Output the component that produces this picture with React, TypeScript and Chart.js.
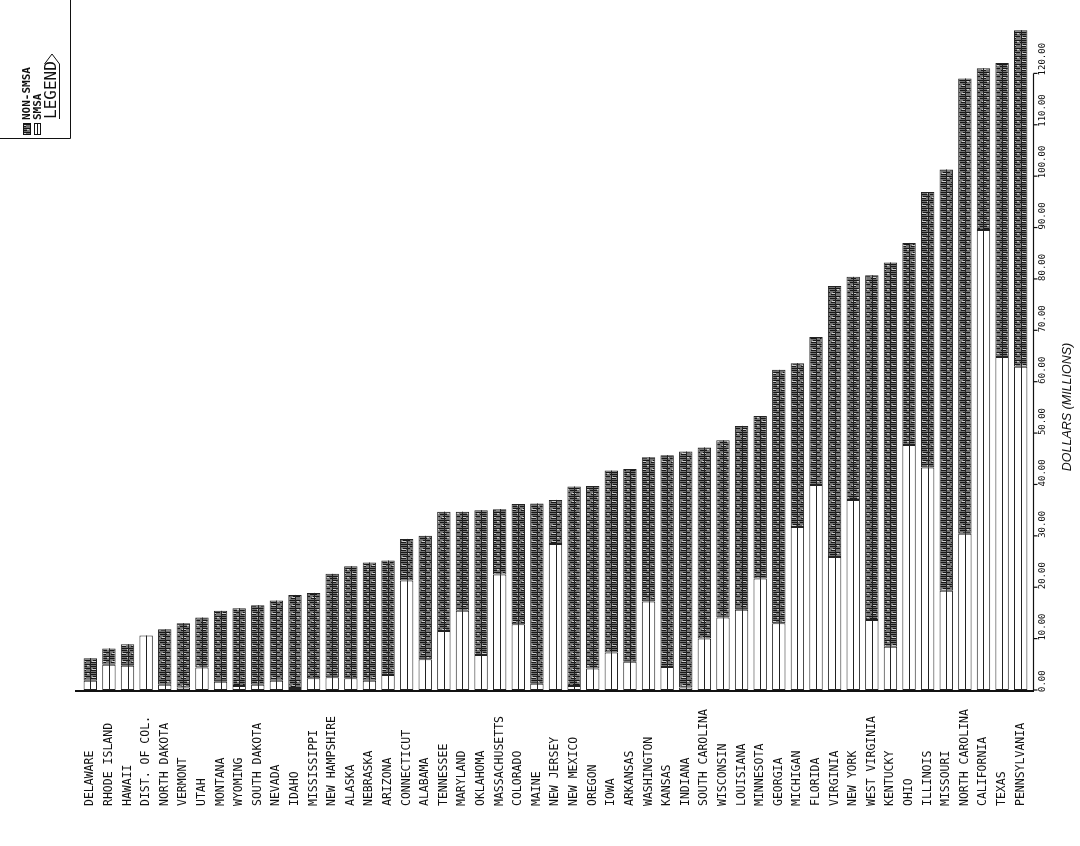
import React, { useEffect, useRef } from "react";
import { Chart, registerables } from "chart.js";

Chart.register(...registerables);

const states = [
  "DELAWARE", "RHODE ISLAND", "HAWAII", "DIST. OF COL.", "NORTH DAKOTA", "VERMONT", "UTAH",
  "MONTANA", "WYOMING", "SOUTH DAKOTA", "NEVADA", "IDAHO", "MISSISSIPPI", "NEW HAMPSHIRE",
  "ALASKA", "NEBRASKA", "ARIZONA", "CONNECTICUT", "ALABAMA", "TENNESSEE", "MARYLAND",
  "OKLAHOMA", "MASSACHUSETTS", "COLORADO", "MAINE", "NEW JERSEY", "NEW MEXICO", "OREGON",
  "IOWA", "ARKANSAS", "WASHINGTON", "KANSAS", "INDIANA", "SOUTH CAROLINA", "WISCONSIN",
  "LOUISIANA", "MINNESOTA", "GEORGIA", "MICHIGAN", "FLORIDA", "VIRGINIA", "NEW YORK",
  "WEST VIRGINIA", "KENTUCKY", "OHIO", "ILLINOIS", "MISSOURI", "NORTH CAROLINA",
  "CALIFORNIA", "TEXAS", "PENNSYLVANIA",
];

const smsa = [
  1.8, 4.9, 4.7, 10.6, 1.0, 0.5, 4.4, 1.6, 0.8, 1.0, 1.8, 0.4, 2.3, 2.5, 2.3, 1.8, 2.9,
  21.3, 6.0, 11.5, 15.4, 6.8, 22.5, 12.8, 1.2, 28.4, 0.8, 4.2, 7.3, 5.5, 17.2, 4.5, 0.5,
  10.0, 14.1, 15.6, 21.7, 13.0, 31.7, 39.9, 25.9, 37.0, 13.6, 8.4, 47.7, 43.3, 19.3, 30.4,
  89.5, 64.8, 62.9,
];

const nonSmsa = [
  4.4, 3.2, 4.2, 0, 10.8, 12.5, 9.7, 13.8, 15.1, 15.5, 15.6, 18.1, 16.6, 20.1, 21.8, 23.0,
  22.3, 8.1, 24.0, 23.2, 19.3, 28.2, 12.7, 23.4, 35.1, 8.6, 38.8, 35.5, 35.4, 37.5, 28.1,
  41.2, 45.9, 37.2, 34.5, 35.8, 31.6, 49.3, 31.9, 28.8, 52.7, 43.4, 67.1, 74.8, 39.3, 53.6,
  82.0, 88.6, 31.5, 57.2, 65.5,
];

const valueTicks = [0, 10, 20, 30, 40, 50, 60, 70, 80, 90, 100, 110, 120];
const tickLabels = ["0.00", "10.00", "20.00", "30.00", "40.00", "50.00", "60.00", "70.00", "80.00", "90.00", "100.00", "110.00", "120.00"];
const seriesNames = ["SMSA", "NON-SMSA"];
const legendTitle = "LEGEND";
const axisTitle = "DOLLARS (MILLIONS)";

function makeHatch(ctx: CanvasRenderingContext2D): CanvasPattern | string {
  const c = document.createElement("canvas");
  c.width = 10;
  c.height = 8;
  const t = c.getContext("2d");
  if (!t) return "#777";
  t.fillStyle = "#747474";
  t.fillRect(0, 0, 10, 8);
  t.fillStyle = "#161616";
  t.fillRect(0, 0, 10, 1);
  t.fillRect(0, 2, 7, 1);
  t.fillRect(3, 4, 7, 1);
  t.fillRect(1, 6, 5, 1);
  t.fillStyle = "#cfcfcf";
  t.fillRect(2, 5, 4, 1);
  t.fillRect(7, 1, 2, 1);
  return ctx.createPattern(c, "repeat") || "#777";
}

export default function App() {
  const ref = useRef<HTMLCanvasElement>(null);

  useEffect(() => {
    document.body.style.margin = "0";
    const canvas = ref.current;
    if (!canvas) return;
    const ctx = canvas.getContext("2d");
    if (!ctx) return;
    const hatch = makeHatch(ctx);

    const overlay = {
      id: "overlay",
      afterDatasetsDraw(chart: any) {
        const c = chart.ctx as CanvasRenderingContext2D;
        c.save();
        c.strokeStyle = "#222";
        c.lineWidth = 1;
        chart.data.datasets.forEach((_: any, di: number) => {
          const meta = chart.getDatasetMeta(di);
          meta.data.forEach((el: any) => {
            if (Math.abs(el.base - el.y) < 0.5) return;
            c.beginPath();
            c.moveTo(Math.round(el.x) + 0.5, el.y);
            c.lineTo(Math.round(el.x) + 0.5, el.base);
            c.stroke();
          });
        });
        c.restore();
      },
      afterDraw(chart: any) {
        const c = chart.ctx as CanvasRenderingContext2D;
        const xs = chart.scales.x;
        const ys = chart.scales.y;
        const area = chart.chartArea;
        const y0 = ys.getPixelForValue(0);
        c.save();
        c.strokeStyle = "#111";
        c.fillStyle = "#111";

        // baseline
        c.lineWidth = 2;
        c.beginPath();
        c.moveTo(area.left - 6, y0 + 1);
        c.lineTo(area.right + 4, y0 + 1);
        c.stroke();

        // right value axis
        const ax = area.right + 3.5;
        c.lineWidth = 1.2;
        c.beginPath();
        c.moveTo(ax, y0 + 1);
        c.lineTo(ax, ys.getPixelForValue(valueTicks[valueTicks.length - 1]));
        c.stroke();
        c.font = "9px 'DejaVu Sans Mono'";
        c.textBaseline = "middle";
        c.textAlign = "left";
        valueTicks.forEach((v, i) => {
          const py = ys.getPixelForValue(v);
          c.beginPath();
          c.moveTo(ax, py);
          c.lineTo(ax + 4, py);
          c.stroke();
          c.save();
          c.translate(ax + 9, py + 2);
          c.rotate(-Math.PI / 2);
          c.fillText(tickLabels[i], 0, 0);
          c.restore();
        });

        // axis title
        c.save();
        c.translate(area.right + 38, 407);
        c.rotate(-Math.PI / 2);
        c.font = "italic 12.5px 'Liberation Sans'";
        c.textAlign = "center";
        c.fillText(axisTitle, 0, 0);
        c.restore();

        // category labels
        c.font = "11.5px 'DejaVu Sans Mono'";
        c.textAlign = "left";
        states.forEach((s, i) => {
          const px = xs.getPixelForValue(i);
          c.save();
          c.translate(px, 806);
          c.rotate(-Math.PI / 2);
          c.fillText(s, 0, 0);
          c.restore();
        });

        // legend box
        c.lineWidth = 1;
        c.beginPath();
        c.moveTo(70.5, 0);
        c.lineTo(70.5, 138.5);
        c.lineTo(0, 138.5);
        c.stroke();

        // NON-SMSA swatch
        c.fillStyle = hatch as any;
        c.fillRect(23, 123, 8, 12);
        c.strokeRect(23.5, 123.5, 7, 11);
        // SMSA swatch
        c.fillStyle = "#fff";
        c.fillRect(34, 123, 7, 12);
        c.strokeRect(34.5, 123.5, 6, 11);
        c.beginPath();
        c.moveTo(37.5, 123.5);
        c.lineTo(37.5, 134.5);
        c.stroke();

        c.fillStyle = "#111";
        c.font = "bold 11px 'DejaVu Sans Mono'";
        c.textAlign = "left";
        c.save();
        c.translate(27.5, 120);
        c.rotate(-Math.PI / 2);
        c.fillText(seriesNames[1], 0, 0);
        c.restore();
        c.save();
        c.translate(38, 120);
        c.rotate(-Math.PI / 2);
        c.fillText(seriesNames[0], 0, 0);
        c.restore();

        c.font = "16px 'DejaVu Sans Mono'";
        c.save();
        c.translate(51.5, 119);
        c.rotate(-Math.PI / 2);
        c.fillText(legendTitle, 0, 0);
        c.restore();
        c.beginPath();
        c.moveTo(59.5, 119);
        c.lineTo(59.5, 64);
        c.lineTo(52, 54);
        c.lineTo(44.5, 64);
        c.stroke();

        c.restore();
      },
    };

    const chart = new Chart(canvas, {
      type: "bar",
      data: {
        labels: states,
        datasets: [
          {
            label: seriesNames[0],
            data: smsa,
            backgroundColor: "#ffffff",
            borderColor: "#222",
            borderWidth: 1,
            borderSkipped: false,
            barPercentage: 0.72,
            categoryPercentage: 1,
            stack: "s",
          },
          {
            label: seriesNames[1],
            data: nonSmsa,
            backgroundColor: hatch as any,
            borderColor: "#222",
            borderWidth: 1,
            borderSkipped: false,
            barPercentage: 0.72,
            categoryPercentage: 1,
            stack: "s",
          },
        ],
      },
      options: {
        responsive: false,
        maintainAspectRatio: false,
        animation: false,
        layout: { padding: { left: 81, right: 50, top: 22, bottom: 156 } },
        plugins: { legend: { display: false }, tooltip: { enabled: false } },
        scales: {
          x: { display: false, stacked: true },
          y: { display: false, stacked: true, min: 0, max: 130 },
        },
      },
      plugins: [overlay],
    });

    return () => chart.destroy();
  }, []);

  return <canvas ref={ref} width={1080} height={846} style={{ display: "block" }} />;
}
